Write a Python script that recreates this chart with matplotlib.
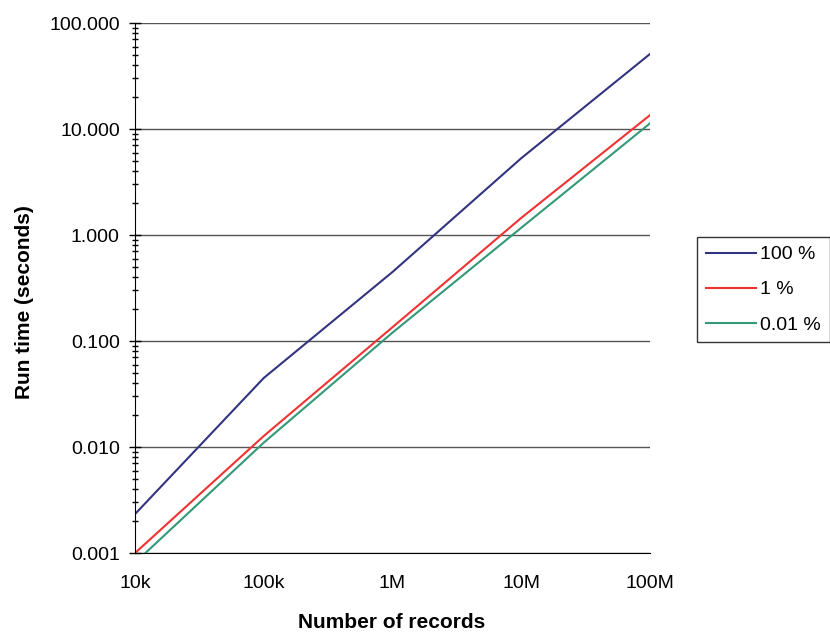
import numpy as np
import matplotlib.pyplot as plt
from matplotlib.ticker import FixedLocator, LogLocator, NullFormatter, FuncFormatter

plt.rcParams['font.family'] = ['Liberation Sans', 'DejaVu Sans']

records = [1e4, 1e5, 1e6, 1e7, 1e8]
record_labels = ["10k", "100k", "1M", "10M", "100M"]

t_100 = [0.00233, 0.0448, 0.448, 5.3, 51.0]
t_1 = [0.00100, 0.0127, 0.135, 1.45, 13.5]
t_001 = [0.00081, 0.0110, 0.120, 1.17, 11.3]

fig = plt.figure(figsize=(8.3, 6.32), dpi=100)
ax = fig.add_axes([0.1627, 0.125, 0.7831 - 0.1627, 0.9636 - 0.125])

ax.plot(records, t_100, color="#333380", lw=1.5, label="100 %")
ax.plot(records, t_1, color="#EE3333", lw=1.5, label="1 %")
ax.plot(records, t_001, color="#339977", lw=1.5, label="0.01 %")

ax.set_xscale("log")
ax.set_yscale("log")
ax.set_xlim(1e4, 1e8)
ax.set_ylim(0.001, 100)

ax.set_xticks(records)
ax.set_xticklabels(record_labels)
ax.xaxis.set_minor_locator(FixedLocator([]))
ax.tick_params(axis="x", length=0, labelsize=14, pad=16)

ax.yaxis.set_major_locator(FixedLocator([0.001, 0.01, 0.1, 1, 10, 100]))
ax.yaxis.set_major_formatter(FuncFormatter(lambda v, p: "%.3f" % v))
ax.yaxis.set_minor_locator(LogLocator(base=10, subs=np.arange(2, 10)))
ax.yaxis.set_minor_formatter(NullFormatter())
ax.tick_params(axis="y", which="major", direction="inout", length=8, width=1, labelsize=14, pad=7)
ax.tick_params(axis="y", which="minor", direction="inout", length=4.5, width=1)

ax.grid(True, which="major", axis="y", color="#555555", lw=1)
ax.set_axisbelow(True)
for s in ["top", "right"]:
    ax.spines[s].set_visible(False)

fig.text(392 / 830, 1 - 622 / 632, "Number of records", fontsize=15, fontweight="bold",
         ha="center", va="center")
fig.text(24 / 830, 1 - 302 / 632, "Run time (seconds)", fontsize=15, fontweight="bold",
         ha="center", va="center", rotation=90)

leg = fig.legend(loc="upper left", bbox_to_anchor=(0.8398, 0.625), fontsize=14,
                 frameon=True, fancybox=False, edgecolor="black", borderaxespad=0,
                 handlelength=2.6, handletextpad=0.2, labelspacing=0.9,
                 borderpad=0.45)
leg.get_frame().set_linewidth(1)

fig.savefig("out.png", dpi=100)
